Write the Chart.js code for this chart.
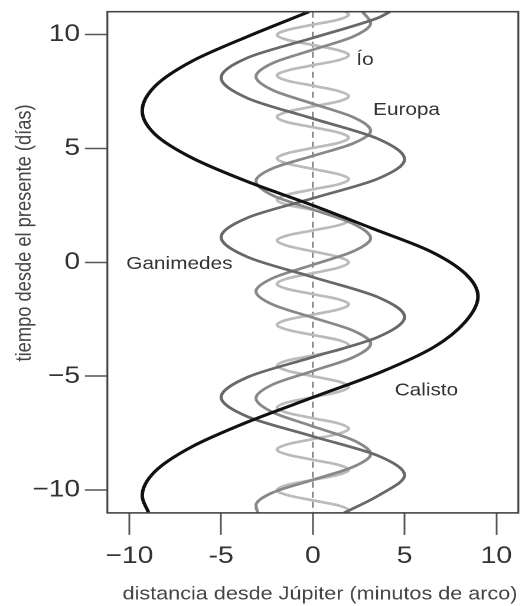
<!DOCTYPE html>
<html>
<head>
<meta charset="utf-8">
<script src="https://cdn.jsdelivr.net/npm/chart.js@4.4.1/dist/chart.umd.min.js"></script>
<style>
  html, body { margin: 0; padding: 0; background: #fff; overflow: hidden; }
  /* el original está estirado a lo ancho */
  #marco { width: 442px; height: 606px; transform: scaleX(1.181); transform-origin: 0 0; }
</style>
</head>
<body>
<div id="marco"><canvas id="grafico" width="442" height="606"></canvas></div>
<script>
// distancia desde Júpiter (minutos de arco) y tiempo (días)
const calistoDist = [-0.2, -3.56, -6.58, -8.59, -9.3, -8.59, -6.58, -3.56, 0, 3.2, 6.36, 8.31, 9.0, 8.31, 6.6, 3.7, 0, -3.56, -6.58, -8.59, -9.3, -8.95];
const calistoDias = [11.0, 9.91, 8.83, 7.74, 6.65, 5.61, 4.58, 3.54, 2.5, 1.5, 0.5, -0.5, -1.5, -2.61, -3.72, -4.82, -5.93, -7.01, -8.09, -9.17, -10.25, -11.0];

const ganimedesDist = [4.2, 3.55, 0, -3.55, -5.0, -3.55, 0, 3.55, 5.0, 3.55, 0, -3.55, -5.0, -3.55, 0, 3.55, 5.0, 3.55, 0, -3.55, -5.0, -3.55, 0, 3.55, 5.0, 3.55, 1.7];
const ganimedesDias = [11.0, 10.73, 9.85, 8.98, 8.1, 7.2, 6.31, 5.42, 4.52, 3.67, 2.81, 1.96, 1.1, 0.23, -0.65, -1.53, -2.4, -3.28, -4.16, -5.04, -5.92, -6.78, -7.64, -8.49, -9.35, -10.25, -11.0];

const europaDist = [2.7, 3.15, 2.2, 0, -2.2, -3.1, -2.2, 0, 2.2, 3.15, 2.2, 0, -2.2, -3.1, -2.2, 0, 2.2, 3.15, 2.2, 0, -2.2, -3.1, -2.2, 0, 2.2, 3.15, 2.2, 0, -2.2, -3.1, -2.2, 0, 2.2, 3.15, 2.2, 0, -2.2, -3.1, -3.0];
const europaDias = [11.0, 10.5, 9.91, 9.33, 8.74, 8.15, 7.56, 6.96, 6.37, 5.77, 5.22, 4.67, 4.12, 3.57, 2.94, 2.32, 1.69, 1.06, 0.48, -0.11, -0.7, -1.28, -1.85, -2.43, -3.0, -3.57, -4.17, -4.77, -5.37, -5.97, -6.58, -7.2, -7.81, -8.42, -8.98, -9.55, -10.11, -10.67, -11.0];

const ioDist = [1.8,
  1.95, 1.38, 0, -1.38, -1.95, -1.38, 0, 1.38,
  1.95, 1.38, 0, -1.38, -1.95, -1.38, 0, 1.38,
  1.95, 1.38, 0, -1.38, -1.95, -1.38, 0, 1.38,
  1.95, 1.38, 0, -1.38, -1.95, -1.38, 0, 1.38,
  1.95, 1.38, 0, -1.38, -1.95, -1.38, 0, 1.38,
  1.95, 1.38, 0, -1.38, -1.95, -1.38, 0, 1.38,
  1.95, 1.38, 0, -1.38, -1.95, -1.38, 0, 1.38,
  1.95, 1.38, 0, -1.38, -1.95, -1.38, 0, 1.38,
  1.95, 1.38, 0, -1.38, -1.95, -1.38, 0, 1.38,
  1.95, 1.38, 0, -1.38, -1.95, -1.38, 0, 1.38,
  1.95, 1.38, 0, -1.38, -1.95, -1.38, 0, 1.38,
  1.95, 1.38, 0, -1.38, -1.95, -1.38, 0, 1.38,
  1.95, 1.9];
const ioDias = [11.0,
  10.87, 10.65, 10.43, 10.2, 9.98, 9.76, 9.54, 9.31,
  9.09, 8.87, 8.65, 8.42, 8.2, 7.97, 7.75, 7.52,
  7.29, 7.06, 6.84, 6.61, 6.38, 6.15, 5.93, 5.7,
  5.47, 5.24, 5.02, 4.79, 4.56, 4.33, 4.1, 3.87,
  3.65, 3.42, 3.2, 2.97, 2.74, 2.52, 2.3, 2.07,
  1.85, 1.62, 1.4, 1.18, 0.96, 0.72, 0.48, 0.24,
  0.0, -0.24, -0.48, -0.71, -0.95, -1.17, -1.4, -1.62,
  -1.85, -2.07, -2.3, -2.52, -2.74, -2.96, -3.19, -3.41,
  -3.64, -3.86, -4.09, -4.31, -4.53, -4.76, -5.0, -5.23,
  -5.46, -5.69, -5.92, -6.15, -6.38, -6.61, -6.84, -7.07,
  -7.3, -7.53, -7.76, -7.99, -8.22, -8.44, -8.67, -8.89,
  -9.11, -9.33, -9.55, -9.77, -10.0, -10.22, -10.45, -10.67,
  -10.9, -11.0];

const jupiterDist = [0, 0];
const jupiterDias = [11, -11];

const ticksX = [-10, -5, 0, 5, 10];
const etiquetasX = ['\u221210', '-5', '0', '5', '10'];
const ticksY = [-10, -5, 0, 5, 10];
const etiquetasY = ['\u221210', '\u22125', '0', '5', '10'];

const lunas = ['Ío', 'Europa', 'Ganimedes', 'Calisto'];
const tituloX = 'distancia desde Júpiter (minutos de arco)';
const tituloY = 'tiempo desde el presente (días)';

// dónde va cada nombre (en unidades de los ejes)
const posLunasX = [2.37, 3.28, -10.17, 4.46];
const posLunasY = [8.66, 6.47, -0.29, -5.85];

const fuente = '"Liberation Sans", Arial, Helvetica, sans-serif';
Chart.defaults.font.family = fuente;

const toPoints = (xs, ys) => xs.map((x, i) => ({ x: x, y: ys[i] }));

const serie = (label, xs, ys, color, width) => ({
  label: label,
  data: toPoints(xs, ys),
  borderColor: color,
  borderWidth: width,
  pointRadius: 0,
  cubicInterpolationMode: 'monotone',
  fill: false
});

const marcoYTextos = {
  id: 'marcoYTextos',
  afterDatasetsDraw(chart) {
    const { ctx, chartArea: a, scales: { x, y } } = chart;
    ctx.save();
    ctx.strokeStyle = '#444';
    ctx.lineWidth = 1.6;
    ctx.strokeRect(a.left, a.top, a.right - a.left, a.bottom - a.top);

    ctx.fillStyle = '#333';
    ctx.font = '17.6px ' + fuente;
    ctx.textAlign = 'left';
    ctx.textBaseline = 'alphabetic';
    lunas.forEach((t, i) => {
      ctx.fillText(t, x.getPixelForValue(posLunasX[i]), y.getPixelForValue(posLunasY[i]));
    });

    ctx.fillStyle = '#444';
    ctx.font = '18.3px ' + fuente;
    ctx.textAlign = 'center';
    ctx.textBaseline = 'middle';
    ctx.fillText(tituloX, x.getPixelForValue(0.39), chart.height - 11.3);

    ctx.translate(21.2, y.getPixelForValue(1.29));
    ctx.rotate(-Math.PI / 2);
    ctx.fillText(tituloY, 0, 0);
    ctx.restore();
  }
};

new Chart(document.getElementById('grafico'), {
  type: 'line',
  data: {
    datasets: [
      serie('Calisto', calistoDist, calistoDias, '#111', 3),
      serie('Ganimedes', ganimedesDist, ganimedesDias, '#686868', 2.7),
      serie('Europa', europaDist, europaDias, '#888', 2.7),
      serie('Ío', ioDist, ioDias, '#bbb', 2.7),
      {
        label: 'Júpiter',
        data: toPoints(jupiterDist, jupiterDias),
        borderColor: '#777',
        borderWidth: 1.3,
        borderDash: [6, 4],
        pointRadius: 0
      }
    ]
  },
  options: {
    indexAxis: 'y',
    responsive: false,
    devicePixelRatio: 2,
    animation: false,
    events: [],
    layout: { padding: { top: 11.7, right: 3.1, left: 0, bottom: 0 } },
    plugins: { legend: { display: false }, tooltip: { enabled: false } },
    scales: {
      x: {
        type: 'linear',
        position: 'bottom',
        min: -11.2,
        max: 11.2,
        afterBuildTicks: (s) => { s.ticks = ticksX.map(v => ({ value: v })); },
        afterFit: (s) => { s.height = 93.1; s.paddingLeft = 0; s.paddingRight = 0; },
        ticks: {
          callback: (v) => etiquetasX[ticksX.indexOf(v)],
          font: { size: 24 },
          color: '#333',
          padding: 7,
          maxRotation: 0,
          autoSkip: false
        },
        grid: { drawOnChartArea: false, drawTicks: true, tickLength: 22, tickColor: '#555', tickWidth: 1.5 },
        border: { display: false }
      },
      y: {
        type: 'linear',
        position: 'left',
        min: -11,
        max: 11,
        afterBuildTicks: (s) => { s.ticks = ticksY.map(v => ({ value: v })); },
        afterFit: (s) => { s.width = 90.9; s.paddingTop = 0; s.paddingBottom = 0; },
        ticks: {
          callback: (v) => etiquetasY[ticksY.indexOf(v)],
          font: { size: 24 },
          color: '#333',
          padding: 4,
          autoSkip: false
        },
        grid: { drawOnChartArea: false, drawTicks: true, tickLength: 19, tickColor: '#555', tickWidth: 1.5 },
        border: { display: false }
      }
    }
  },
  plugins: [marcoYTextos]
});
</script>
</body>
</html>
